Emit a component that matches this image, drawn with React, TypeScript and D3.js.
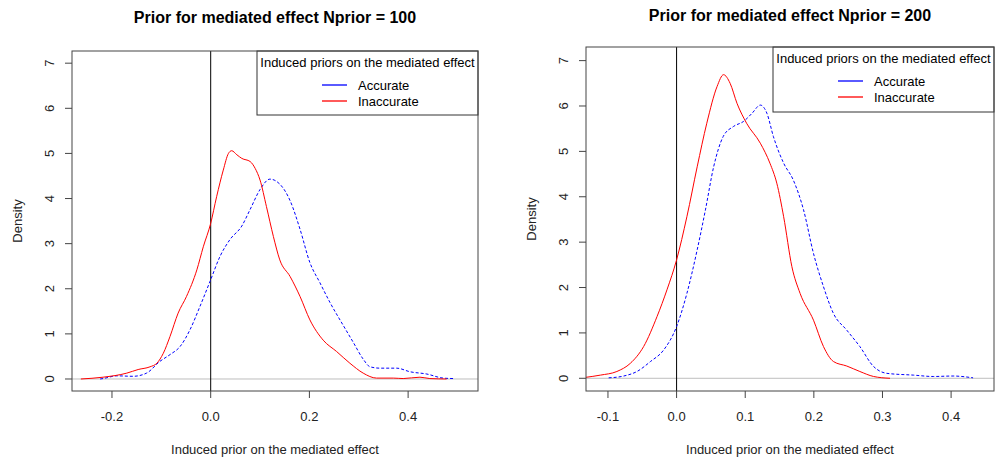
import React from "react";
import * as d3 from "d3";

// ---------- data ----------
const legendTitle = "Induced priors on the mediated effect";
const seriesNames = ["Accurate", "Inaccurate"];
const xTitle = "Induced prior on the mediated effect";
const yTitle = "Density";
const yTicks = [0, 1, 2, 3, 4, 5, 6, 7];

const title100 = "Prior for mediated effect Nprior = 100";
const xTicks100 = [-0.2, 0.0, 0.2, 0.4];
const acc100: [number, number][] = [
  [-0.224, 0.0], [-0.218, 0.01], [-0.19, 0.07], [-0.157, 0.06], [-0.13, 0.13], [-0.103, 0.39],
  [-0.0825, 0.54], [-0.062, 0.72], [-0.042, 1.09], [-0.0217, 1.61], [0, 2.2], [0.019, 2.72],
  [0.039, 3.09], [0.063, 3.39], [0.08, 3.76], [0.1, 4.2], [0.12, 4.43], [0.14, 4.32],
  [0.161, 3.95], [0.181, 3.32], [0.201, 2.58], [0.221, 2.14], [0.242, 1.69], [0.269, 1.18],
  [0.289, 0.81], [0.309, 0.44], [0.323, 0.27], [0.343, 0.24], [0.377, 0.24], [0.404, 0.16],
  [0.438, 0.11], [0.471, 0.02], [0.492, 0.01],
];
const inacc100: [number, number][] = [
  [-0.263, 0.0], [-0.218, 0.04], [-0.17, 0.13], [-0.147, 0.21], [-0.123, 0.27], [-0.109, 0.35],
  [-0.096, 0.57], [-0.0825, 0.94], [-0.066, 1.46], [-0.049, 1.83], [-0.028, 2.42], [-0.015, 2.93],
  [0, 3.45], [0.012, 4.04], [0.0255, 4.63], [0.036, 5.0], [0.0425, 5.06], [0.053, 4.97],
  [0.063, 4.89], [0.08, 4.82], [0.09, 4.67], [0.1, 4.41], [0.113, 3.82], [0.127, 3.16],
  [0.14, 2.64], [0.161, 2.27], [0.181, 1.83], [0.201, 1.31], [0.228, 0.86], [0.255, 0.61],
  [0.282, 0.35], [0.309, 0.13], [0.336, 0.02], [0.37, 0.02], [0.39, 0.01], [0.424, 0.04],
  [0.444, 0.01], [0.478, 0.0],
];

const title200 = "Prior for mediated effect Nprior = 200";
const xTicks200 = [-0.1, 0.0, 0.1, 0.2, 0.3, 0.4];
const acc200: [number, number][] = [
  [-0.099, 0.01], [-0.077, 0.05], [-0.0577, 0.15], [-0.038, 0.37], [-0.019, 0.62], [0, 1.14],
  [0.015, 1.87], [0.03, 2.83], [0.042, 3.71], [0.054, 4.66], [0.068, 5.33], [0.083, 5.55],
  [0.0976, 5.66], [0.11, 5.84], [0.122, 6.02], [0.1316, 5.84], [0.141, 5.33], [0.156, 4.74],
  [0.17, 4.37], [0.185, 3.71], [0.1995, 2.75], [0.214, 2.02], [0.2285, 1.43], [0.248, 1.06],
  [0.267, 0.7], [0.287, 0.26], [0.306, 0.11], [0.345, 0.07], [0.374, 0.04], [0.403, 0.05],
  [0.432, 0.01],
];
const inacc200: [number, number][] = [
  [-0.133, 0.02], [-0.111, 0.07], [-0.087, 0.15], [-0.0674, 0.33], [-0.048, 0.7], [-0.0285, 1.36],
  [-0.014, 1.95], [0, 2.61], [0.015, 3.56], [0.03, 4.66], [0.044, 5.62], [0.059, 6.43],
  [0.0684, 6.69], [0.078, 6.5], [0.088, 6.06], [0.102, 5.62], [0.122, 5.18], [0.136, 4.74],
  [0.146, 4.3], [0.156, 3.56], [0.168, 2.46], [0.18, 1.87], [0.1995, 1.28], [0.214, 0.7],
  [0.2285, 0.37], [0.248, 0.27], [0.267, 0.15], [0.287, 0.04], [0.311, 0.0],
];

const FONT = "'Liberation Sans', Arial, Helvetica, sans-serif";

type PanelProps = {
  id: string;
  title: string;
  xDomain: [number, number];
  yDomain: [number, number];
  box: { l: number; t: number; r: number; b: number };
  xTicks: number[];
  acc: [number, number][];
  inacc: [number, number][];
  legend: { l: number; t: number; r: number; b: number };
  titleY: number;
};

function Panel(p: PanelProps) {
  const { box } = p;
  const x = d3.scaleLinear().domain(p.xDomain).range([box.l, box.r]);
  const y = d3.scaleLinear().domain(p.yDomain).range([box.b, box.t]);
  const line = d3
    .line<[number, number]>()
    .x((d) => x(d[0]))
    .y((d) => y(d[1]))
    .curve(d3.curveMonotoneX);
  const cx = (box.l + box.r) / 2;
  const cy = (box.t + box.b) / 2;
  const lg = p.legend;
  const lgMid = (lg.l + lg.r) / 2;
  return (
    <g fontFamily={FONT}>
      <defs>
        <clipPath id={"clip" + p.id}>
          <rect x={box.l} y={box.t} width={box.r - box.l} height={box.b - box.t} />
        </clipPath>
      </defs>
      <text x={cx} y={p.titleY} textAnchor="middle" fontSize={16} fontWeight="bold" fill="#000">
        {p.title}
      </text>
      {/* reference lines */}
      <line x1={box.l} x2={box.r} y1={y(0)} y2={y(0)} stroke="#bebebe" strokeWidth={1} />
      <line x1={x(0)} x2={x(0)} y1={box.t} y2={box.b} stroke="#000" strokeWidth={1} />
      <g clipPath={`url(#clip${p.id})`}>
        <path d={line(p.acc) || ""} fill="none" stroke="#0000ff" strokeWidth={1} strokeDasharray="3,2" />
        <path d={line(p.inacc) || ""} fill="none" stroke="#ff0000" strokeWidth={1} />
      </g>
      {/* legend */}
      <rect x={lg.l} y={lg.t} width={lg.r - lg.l} height={lg.b - lg.t} fill="#fff" stroke="#333" strokeWidth={1} />
      <text x={lgMid} y={lg.t + 16} textAnchor="middle" fontSize={13} fill="#000">
        {legendTitle}
      </text>
      {seriesNames.map((n, i) => {
        const yy = lg.t + 34 + i * 16;
        return (
          <g key={n}>
            <line x1={lg.l + 65} x2={lg.l + 90} y1={yy} y2={yy} stroke={i === 0 ? "#0000ff" : "#ff0000"} strokeWidth={1.3} />
            <text x={lg.l + 101} y={yy + 4.5} fontSize={13} fill="#000">
              {n}
            </text>
          </g>
        );
      })}
      {/* box */}
      <rect x={box.l} y={box.t} width={box.r - box.l} height={box.b - box.t} fill="none" stroke="#444" strokeWidth={1} />
      {/* y axis */}
      {yTicks.map((t) => (
        <g key={"y" + t}>
          <line x1={box.l - 7} x2={box.l} y1={y(t)} y2={y(t)} stroke="#444" />
          <text
            transform={`translate(${box.l - 23},${y(t)}) rotate(-90)`}
            textAnchor="middle"
            dy="0.35em"
            fontSize={13}
            fill="#222"
          >
            {String(t)}
          </text>
        </g>
      ))}
      {/* x axis */}
      {p.xTicks.map((t) => (
        <g key={"x" + t}>
          <line x1={x(t)} x2={x(t)} y1={box.b} y2={box.b + 7} stroke="#444" />
          <text x={x(t)} y={box.b + 30} textAnchor="middle" fontSize={13} fill="#222">
            {d3.format(".1f")(t).replace("−", "-")}
          </text>
        </g>
      ))}
      <text x={cx} y={454} textAnchor="middle" fontSize={13} fill="#222">
        {xTitle}
      </text>
      <text
        transform={`translate(${box.l - 55},${cy}) rotate(-90)`}
        textAnchor="middle"
        dy="0.35em"
        fontSize={13}
        fill="#222"
      >
        {yTitle}
      </text>
    </g>
  );
}

export default function App() {
  return (
    <svg
      width={995}
      height={457}
      style={{ position: "absolute", left: 0, top: 0, background: "#fff" }}
    >
      <rect x={0} y={0} width={995} height={457} fill="#fff" />
      <Panel
        id="a"
        title={title100}
        xDomain={[-0.281, 0.5416]}
        yDomain={[-0.266, 7.27]}
        box={{ l: 72, t: 51, r: 478, b: 391 }}
        xTicks={xTicks100}
        acc={acc100}
        inacc={inacc100}
        legend={{ l: 257, t: 51, r: 478, b: 115 }}
        titleY={23}
      />
      <Panel
        id="b"
        title={title200}
        xDomain={[-0.132, 0.4625]}
        yDomain={[-0.28, 7.3]}
        box={{ l: 586, t: 47, r: 994, b: 391 }}
        xTicks={xTicks200}
        acc={acc200}
        inacc={inacc200}
        legend={{ l: 773, t: 47, r: 994, b: 112 }}
        titleY={21}
      />
    </svg>
  );
}
